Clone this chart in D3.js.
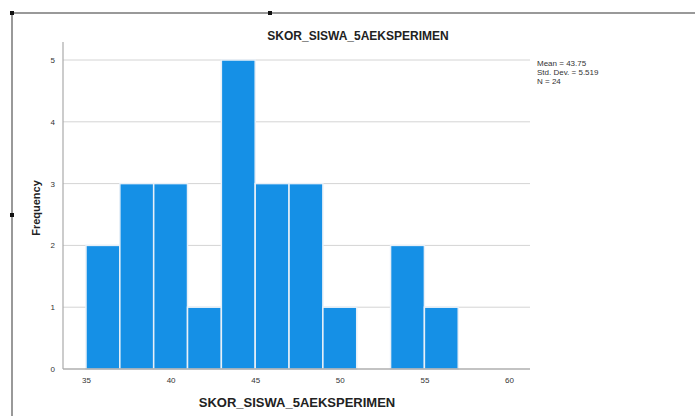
<!DOCTYPE html>
<html><head><meta charset="utf-8">
<script src="https://cdn.jsdelivr.net/npm/d3@7"></script>
<style>body{margin:0;background:#fff;}svg{display:block;font-family:"Liberation Sans",Arial,sans-serif;}</style>
</head><body>
<svg id="c" width="695" height="416"></svg>
<script>
const binStarts = [35, 37, 39, 41, 43, 45, 47, 49, 51, 53, 55];
const binWidth = 2;
const counts = [2, 3, 3, 1, 5, 3, 3, 1, 0, 2, 1];
const xTicks = [35, 40, 45, 50, 55, 60];
const yTicks = [0, 1, 2, 3, 4, 5];
const statsLines = ["Mean = 43.75", "Std. Dev. = 5.519", "N = 24"];
const title = "SKOR_SISWA_5AEKSPERIMEN";
const xLabel = "SKOR_SISWA_5AEKSPERIMEN";
const yLabel = "Frequency";

const svg = d3.select("#c");
const L = 63, R = 530, T = 42, B = 369;
const x = d3.scaleLinear().domain([35, 60]).range([86, 509]);
const y = d3.scaleLinear().domain([0, 5]).range([B, 60]);

// frame lines
svg.append("line").attr("x1", 12).attr("x2", 695).attr("y1", 13).attr("y2", 13).attr("stroke", "#999").attr("stroke-width", 2);
svg.append("line").attr("x1", 12).attr("x2", 12).attr("y1", 13).attr("y2", 416).attr("stroke", "#999").attr("stroke-width", 2);
[[12,13],[270,13],[12,215]].forEach(p => svg.append("rect").attr("x", p[0]-2).attr("y", p[1]-2).attr("width", 4).attr("height", 4).attr("fill", "#111"));

// gridlines
svg.append("g").selectAll("line").data(yTicks.filter(d => d > 0)).join("line")
  .attr("x1", L).attr("x2", R).attr("y1", d => y(d)).attr("y2", d => y(d))
  .attr("stroke", "#d4d4d4").attr("stroke-width", 1);

// bars
svg.append("g").selectAll("rect").data(binStarts.map((s, i) => ({s, c: counts[i]})).filter(d => d.c > 0)).join("rect")
  .attr("x", d => x(d.s)).attr("width", d => x(d.s + binWidth) - x(d.s))
  .attr("y", d => y(d.c)).attr("height", d => y(0) - y(d.c))
  .attr("fill", "#1590e6").attr("stroke", "#e8f0f8").attr("stroke-width", 1.5);

// axes
const xa = svg.append("g").attr("transform", `translate(0,${B})`)
  .call(d3.axisBottom(x).tickValues(xTicks).tickSize(0).tickPadding(8));
xa.select(".domain").remove();
xa.selectAll("text").attr("font-size", 8).attr("fill", "#333").attr("font-family", "Liberation Sans, Arial");
const ya = svg.append("g").attr("transform", `translate(${L},0)`)
  .call(d3.axisLeft(y).tickValues(yTicks).tickSize(0).tickPadding(8).tickFormat(d3.format("d")));
ya.select(".domain").remove();
ya.selectAll("text").attr("font-size", 8).attr("fill", "#333").attr("font-family", "Liberation Sans, Arial");

svg.append("line").attr("x1", L).attr("x2", R).attr("y1", B).attr("y2", B).attr("stroke", "#888").attr("stroke-width", 1.2);
svg.append("line").attr("x1", L).attr("x2", L).attr("y1", T).attr("y2", B).attr("stroke", "#aaa").attr("stroke-width", 1.2);

// texts
svg.append("text").attr("x", 358).attr("y", 40).attr("text-anchor", "middle")
  .attr("font-size", 12).attr("font-weight", "bold").attr("fill", "#222").text(title);
svg.append("text").attr("x", 297).attr("y", 407).attr("text-anchor", "middle")
  .attr("font-size", 13).attr("font-weight", "bold").attr("fill", "#222").text(xLabel);
svg.append("text").attr("transform", "translate(40,208) rotate(-90)").attr("text-anchor", "middle")
  .attr("font-size", 11).attr("font-weight", "bold").attr("fill", "#222").text(yLabel);
svg.append("g").selectAll("text").data(statsLines).join("text")
  .attr("x", 537).attr("y", (d, i) => 66 + i * 9)
  .attr("font-size", 8).attr("fill", "#333").text(d => d);
</script>
</body></html>
